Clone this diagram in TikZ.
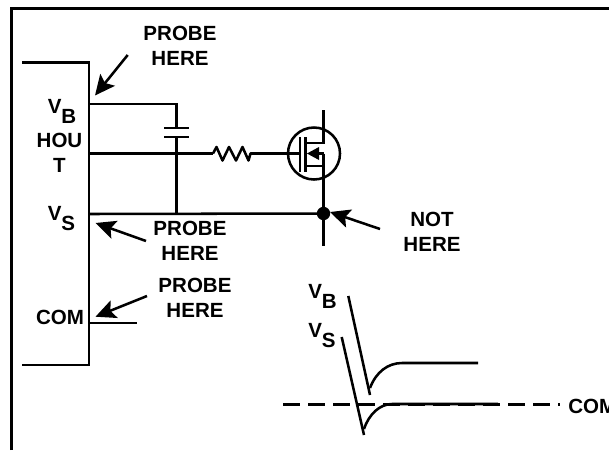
\documentclass[tikz,border=0pt]{standalone}
\usepackage{fontspec}
\setmainfont{Liberation Sans}
\usetikzlibrary{arrows.meta}
\tikzset{
  x=0.75pt,y=-0.75pt,
  wire/.style={line width=1.9pt,line cap=butt,line join=miter},
  lab/.style={font=\bfseries\fontsize{15.4}{19}\selectfont,align=center,inner sep=0pt},
  pointer/.style={line width=1.9pt,-{Stealth[length=15pt,width=14pt,inset=3pt]}},
}
\newcommand{\subdrop}[1]{\raisebox{-7.5pt}{#1}}
\begin{document}
\begin{tikzpicture}
\useasboundingbox (0,0) rectangle (609,450);
\fill[white] (0,0) rectangle (609,450);
% frame
\draw[line width=2.3pt] (11.5,450) -- (11.5,8.5) -- (609,8.5);
% IC
\draw[wire] (22,62.5) -- (89,62.5) -- (89,365) -- (22,365);
% wires
\coordinate (vb) at (89,104);
\coordinate (ho) at (89,153.5);
\coordinate (vs) at (89,214);
\coordinate (com) at (89,323);
\coordinate (capT) at (176.5,128);
\coordinate (capB) at (176.5,137);
\coordinate (rL) at (213,153.5);
\coordinate (gate) at (300,153.5);
\node[circle,fill=black,inner sep=0pt,minimum size=10pt] (dot) at (323.5,213.5) {};
\draw[wire] (vb) -- (176.5,104) -- (capT);
\draw[wire] (capB) -- (176.5,214);
\draw[wire] (164,128) -- (189,128);
\draw[wire] (164,137) -- (189,137);
\draw[wire] (ho) -- (rL);
\draw[wire,line join=round] (rL) -- (216.5,147) -- (222.5,160.5) -- (229,147) -- (236,160.5) -- (242.5,147) -- (248.5,160.5) -- (250.5,153.5) -- (gate);
\draw[wire] (vs) -- (dot.center);
\draw[wire] (com) -- (137,323);
% MOSFET
\draw[wire] (323.5,110) -- (323.5,143) -- (305.5,143);
\draw[wire] (305.5,166) -- (323.5,166) -- (323.5,246);
\draw[wire] (323.5,153.5) -- (323.5,166);
\draw[wire] (323.5,153.5) -- (316,153.5);
\draw[wire] (314,153.5) circle[radius=26];
\draw[wire] (300,137) -- (300,172);
\draw[wire] (305.7,137) -- (305.7,172);
\fill (307,153.5) -- (319,147) -- (319,160) -- cycle;
% pointers
\coordinate (a1s) at (127.7,55);\coordinate (a1e) at (95,95.5);
\coordinate (a2s) at (146,241);\coordinate (a2e) at (95.5,223);
\coordinate (a3s) at (147,296);\coordinate (a3e) at (95.5,316.7);
\coordinate (a4s) at (380,229);\coordinate (a4e) at (330,212);
\draw[pointer] (a1s) -- (a1e);
\draw[pointer] (a2s) -- (a2e);
\draw[pointer] (a3s) -- (a3e);
\draw[pointer] (a4s) -- (a4e);
% labels
\node[lab] (p1) at (180,46) {PROBE\\HERE};
\node[lab] (p2) at (190,241) {PROBE\\HERE};
\node[lab] (p3) at (195,298) {PROBE\\HERE};
\node[lab] (nh) at (432,232) {NOT\\HERE};
\node[lab] (hout) at (59.5,153) {HOU\\T};
\node[lab] (com1) at (60,317) {COM};
\node[lab,anchor=base west] (vbl) at (47.5,113) {V\subdrop{B}};
\node[lab,anchor=base west] (vsl) at (47.5,220) {V\subdrop{S}};
\node[lab,anchor=base west] (vb2) at (308,298) {V\subdrop{B}};
\node[lab,anchor=base west] (vs2) at (308,337) {V\subdrop{S}};
\node[lab,anchor=base west] (com2) at (568,413) {COM};
% waveforms
\draw[wire] (348.3,296) -- (370,395);
\draw[wire] (370,388) .. controls (376,372) and (388,363) .. (402,363) -- (478,363);
\draw[wire] (341.7,337) -- (364,435);
\draw[wire] (364,429) .. controls (369,414) and (380,404) .. (392,404) -- (498,404);
\draw[wire,dash pattern=on 13pt off 5.75pt] (283,404.5) -- (559.5,404.5);
\end{tikzpicture}
\end{document}
